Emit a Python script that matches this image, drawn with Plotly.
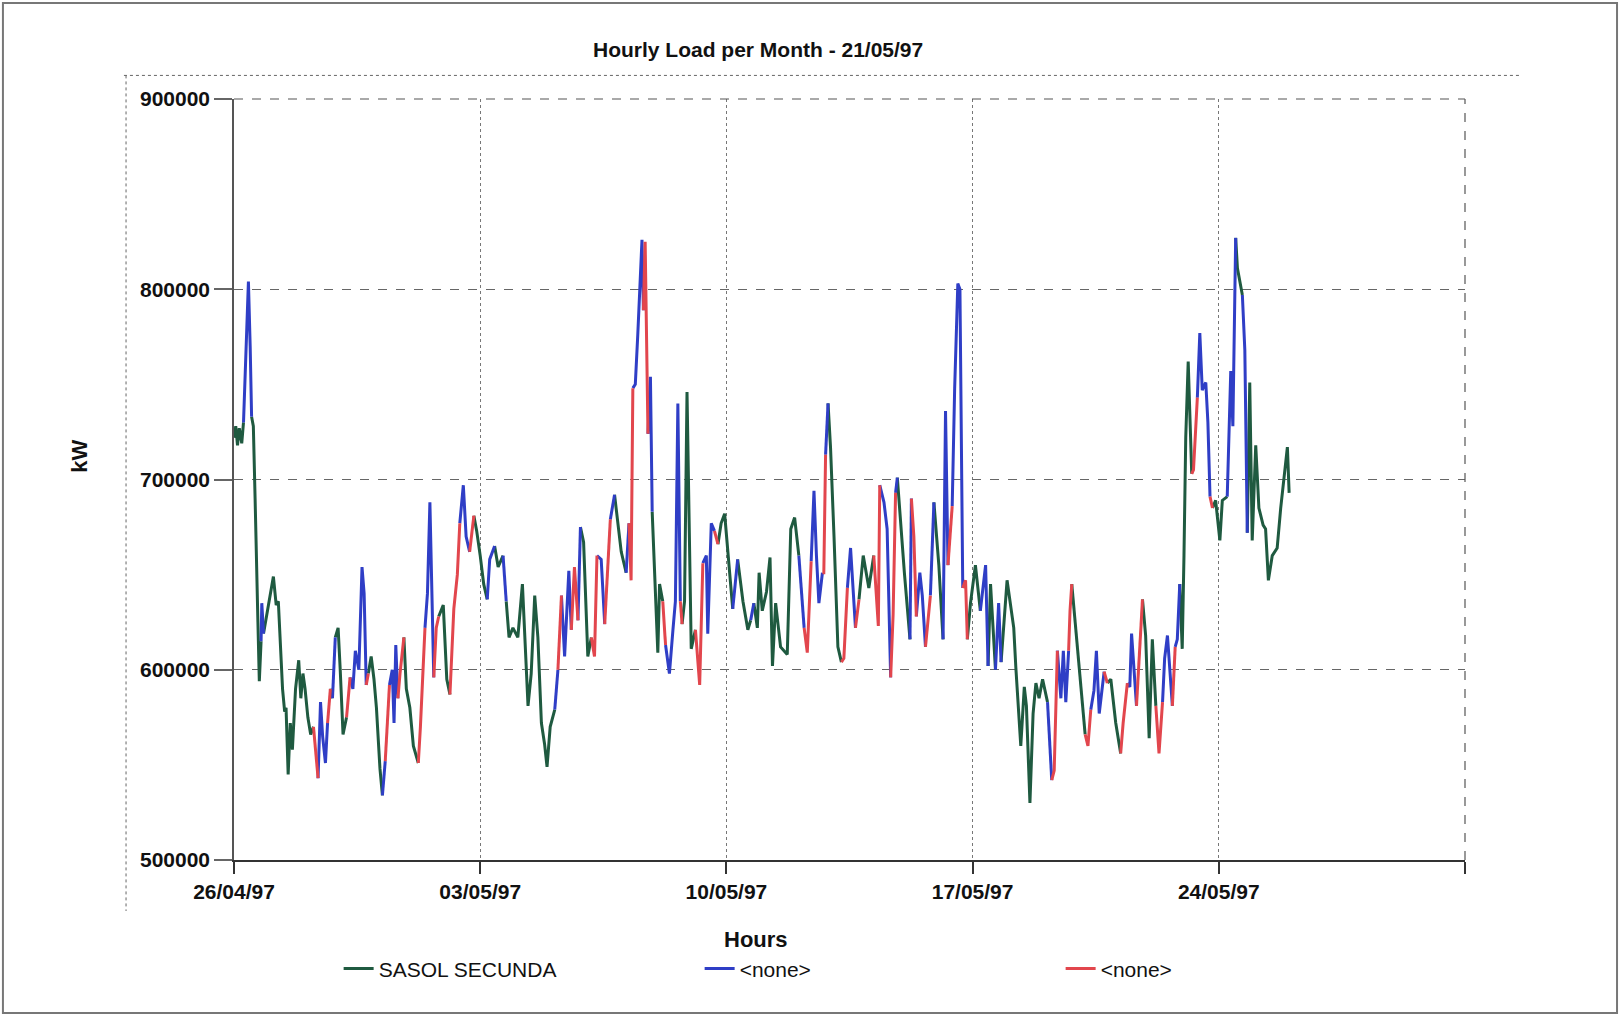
import pandas as pd
import plotly.graph_objects as go

start_date = "1997-04-26"

# days since 26/04/97 00:00 (one line per coloured run)
day_offset = [
    0.00, 0.05, 0.10, 0.15, 0.22, 0.27,
    0.33, 0.41, 0.46, 0.50,
    0.55, 0.60, 0.64, 0.68, 0.72, 0.77,
    0.79, 0.84,
    0.90, 0.98, 1.12, 1.20, 1.26, 1.38, 1.44, 1.48, 1.54, 1.60, 1.66, 1.75, 1.84, 1.90, 1.96, 2.02, 2.10, 2.18, 2.26,
    2.32, 2.39,
    2.46, 2.52, 2.60, 2.66,
    2.74,
    2.80,
    2.88,
    2.96, 3.02, 3.10, 3.20,
    3.30,
    3.38, 3.45, 3.55, 3.64, 3.70, 3.76,
    3.82,
    3.90, 3.98, 4.05, 4.15, 4.22,
    4.30,
    4.36, 4.42,
    4.50, 4.55, 4.60, 4.66,
    4.72, 4.83,
    4.90, 5.00, 5.10, 5.24,
    5.30, 5.43,
    5.50, 5.57, 5.63, 5.68,
    5.75, 5.82,
    5.95, 6.05, 6.14,
    6.25, 6.35, 6.42,
    6.52, 6.60, 6.70,
    6.82,
    6.90, 7.00, 7.10, 7.20,
    7.27, 7.41,
    7.51, 7.65,
    7.74,
    7.82, 7.93, 8.07, 8.20, 8.29, 8.36, 8.45, 8.55, 8.64, 8.74, 8.83, 8.90, 8.99, 9.12,
    9.21,
    9.31,
    9.40, 9.52, 9.59,
    9.68, 9.78,
    9.85,
    9.94, 10.06, 10.16,
    10.25, 10.32,
    10.44, 10.54,
    10.63, 10.70,
    10.82,
    10.92, 11.01, 11.15,
    11.23,
    11.29, 11.34,
    11.41, 11.48, 11.53, 11.60, 11.64,
    11.69, 11.77,
    11.84, 11.89,
    11.96, 12.05, 12.10, 12.19,
    12.27,
    12.38, 12.48, 12.55, 12.62, 12.69,
    12.74,
    12.81, 12.88, 13.00, 13.12,
    13.24, 13.33,
    13.43, 13.47, 13.57, 13.66,
    13.76,
    13.85, 13.95, 14.04, 14.18,
    14.32,
    14.47, 14.61, 14.69,
    14.78,
    14.88, 14.93, 15.02, 15.14, 15.24, 15.31, 15.40, 15.54, 15.73, 15.83, 15.94, 16.06,
    16.21,
    16.30, 16.41,
    16.49, 16.56, 16.63, 16.73,
    16.77, 16.82,
    16.89,
    16.96, 17.06, 17.17, 17.27,
    17.34, 17.44,
    17.53, 17.67,
    17.77,
    17.89, 18.05, 18.19,
    18.32, 18.36,
    18.48, 18.57, 18.67,
    18.74, 18.81,
    18.86,
    18.95, 19.06, 19.22,
    19.26,
    19.33, 19.40,
    19.50, 19.57, 19.66,
    19.80,
    19.90,
    20.04, 20.16,
    20.23, 20.30,
    20.42,
    20.49, 20.58, 20.64, 20.72,
    20.80, 20.85,
    20.94, 21.08, 21.22,
    21.37, 21.44,
    21.51, 21.65,
    21.74, 21.81,
    21.98, 22.17, 22.23, 22.37, 22.47, 22.53, 22.63, 22.72, 22.80, 22.89, 22.99, 23.13,
    23.25,
    23.32, 23.41,
    23.51, 23.58, 23.65, 23.73,
    23.77, 23.82,
    23.89, 24.03, 24.20,
    24.28, 24.36,
    24.45, 24.52, 24.60, 24.74,
    24.83,
    24.93, 25.07, 25.21,
    25.28, 25.40,
    25.47, 25.52, 25.66,
    25.75, 25.83,
    25.92, 26.02, 26.11, 26.21,
    26.30, 26.40,
    26.46, 26.54, 26.68,
    26.76,
    26.82, 26.89,
    26.96, 27.01, 27.06, 27.13, 27.18, 27.23,
    27.28, 27.39,
    27.46, 27.53, 27.63, 27.69, 27.75,
    27.82,
    27.91, 28.03, 28.10, 28.24,
    28.34, 28.40, 28.48,
    28.53, 28.67,
    28.74, 28.81,
    28.88, 28.95, 29.05, 29.14, 29.26, 29.33, 29.41, 29.52, 29.66, 29.76, 29.85, 29.95, 30.00,
]

# hourly load in kW (same line layout as day_offset)
load_kw = [
    722000, 728000, 718000, 727000, 719000, 730000,
    760000, 804000, 770000, 733000,
    728000, 690000, 650000, 625000, 594000, 615000,
    635000, 619000,
    625000, 635000, 649000, 634000, 636000, 590000, 578000, 580000, 545000, 572000, 558000, 590000, 605000, 585000, 598000, 590000, 575000, 566000, 570000,
    556000, 543000,
    583000, 565000, 551000, 572000,
    590000,
    585000,
    617000,
    622000, 600000, 566000, 575000,
    596000,
    590000, 610000, 600000, 654000, 640000, 592000,
    598000,
    607000, 595000, 580000, 548000, 534000,
    552000,
    570000, 592000,
    600000, 572000, 613000, 585000,
    598000, 617000,
    590000, 580000, 560000, 551000,
    570000, 622000,
    640000, 688000, 640000, 596000,
    622000, 628000,
    634000, 595000, 587000,
    632000, 650000, 677000,
    697000, 670000, 662000,
    681000,
    673000, 660000, 645000, 637000,
    658000, 665000,
    654000, 660000,
    636000,
    617000, 622000, 617000, 645000, 611000, 581000, 598000, 639000, 617000, 572000, 561000, 549000, 570000, 579000,
    600000,
    639000,
    607000, 652000, 621000,
    654000, 626000,
    675000,
    667000, 607000, 617000,
    607000, 660000,
    658000, 624000,
    656000, 679000,
    692000,
    677000, 662000, 651000,
    677000,
    647000, 748000,
    750000, 776000, 800000, 826000, 789000,
    825000, 724000,
    754000, 683000,
    647000, 609000, 645000, 636000,
    613000,
    598000, 621000, 636000, 740000, 636000,
    624000,
    636000, 746000, 611000, 621000,
    592000, 656000,
    660000, 619000, 677000, 673000,
    666000,
    677000, 682000, 662000, 632000,
    658000,
    636000, 621000, 626000,
    635000,
    622000, 651000, 631000, 641000, 659000, 602000, 635000, 612000, 608000, 674000, 680000, 660000,
    622000,
    609000, 657000,
    694000, 660000, 635000, 651000,
    651000, 713000,
    740000,
    717000, 670000, 612000, 604000,
    606000, 643000,
    664000, 622000,
    637000,
    660000, 643000, 660000,
    623000, 697000,
    688000, 674000, 596000,
    629000, 693000,
    701000,
    678000, 651000, 616000,
    690000,
    670000, 628000,
    651000, 639000, 612000,
    639000,
    688000,
    655000, 616000,
    736000, 655000,
    686000,
    748000, 803000, 800000, 643000,
    647000, 616000,
    635000, 655000, 631000,
    655000, 602000,
    645000, 600000,
    635000, 604000,
    647000, 622000, 601000, 560000, 591000, 581000, 530000, 577000, 593000, 585000, 595000, 583000,
    542000,
    547000, 610000,
    585000, 610000, 583000, 610000,
    631000, 645000,
    631000, 601000, 566000,
    560000, 579000,
    589000, 610000, 577000, 599000,
    593000,
    595000, 572000, 556000,
    572000, 593000,
    591000, 619000, 581000,
    608000, 637000,
    618000, 564000, 616000, 581000,
    556000, 583000,
    606000, 618000, 581000,
    612000,
    616000, 645000,
    611000, 660000, 722000, 762000, 730000, 703000,
    705000, 743000,
    777000, 747000, 751000, 730000, 691000,
    685000,
    689000, 668000, 689000, 691000,
    757000, 728000, 827000,
    811000, 797000,
    768000, 672000,
    751000, 668000, 718000, 685000, 676000, 674000, 647000, 660000, 664000, 685000, 701000, 717000, 693000,
]

# series of the segment ending at each point: G = SASOL SECUNDA, B / R = <none>
series_code = list(
    "GGGGGG" "BBBB" "GGGGGG" "BB" "GGGGGGGGGGGGGGGGGGG" "RR" "BBBB" "R" "G" "B" "GGGG" "R"
    "BBBBBB" "R" "GGGGG" "B" "RR" "BBBB" "RR" "GGGG" "RR" "BBBB" "RR" "GGG" "RRR" "BBB" "R"
    "GGGG" "BB" "GG" "B" "GGGGGGGGGGGGGG" "B" "R" "BBB" "RR" "B" "GGG" "RR" "BB" "RR" "B"
    "GGG" "B" "RR" "BBBBB" "RR" "BB" "GGGG" "R" "BBBBB" "R" "GGGG" "RR" "BBBB" "R" "GGGG"
    "B" "GGG" "B" "GGGGGGGGGGGG" "B" "RR" "BBBB" "RR" "B" "GGGG" "RR" "BB" "R" "GGG" "RR"
    "BBB" "RR" "B" "GGG" "B" "RR" "BBB" "R" "B" "GG" "BB" "R" "BBBB" "RR" "GGG" "BB" "GG"
    "BB" "GGGGGGGGGGGG" "B" "RR" "BBBB" "RR" "GGG" "RR" "BBBB" "R" "GGG" "RR" "BBB" "RR"
    "GGGG" "RR" "BBB" "R" "BB" "GGGGGG" "RR" "BBBBB" "R" "GGGG" "BBB" "GG" "BB"
    "GGGGGGGGGGGGG"
)

series_names = {"G": "SASOL SECUNDA", "B": "&lt;none&gt;", "R": "&lt;none&gt;"}
series_colors = {"G": "#1f5a40", "B": "#2f3ec6", "R": "#e2464d"}

x_ticks = ["1997-04-26", "1997-05-03", "1997-05-10", "1997-05-17", "1997-05-24", "1997-05-31"]
x_tick_text = ["26/04/97", "03/05/97", "10/05/97", "17/05/97", "24/05/97", ""]
y_ticks = [500000, 600000, 700000, 800000, 900000]
y_tick_text = ["500000", "600000", "700000", "800000", "900000"]

assert len(day_offset) == len(load_kw) == len(series_code)

t0 = pd.Timestamp(start_date)
times = [t0 + pd.Timedelta(days=d) for d in day_offset]

# split into coloured runs; each segment takes the colour of its end point
runs = {c: ([], []) for c in "GBR"}
last_idx = {c: None for c in "GBR"}
for i in range(1, len(times)):
    c = series_code[i]
    xs, ys = runs[c]
    if last_idx[c] != i - 1:
        if xs:
            xs.append(None)
            ys.append(None)
        xs.append(times[i - 1])
        ys.append(load_kw[i - 1])
    xs.append(times[i])
    ys.append(load_kw[i])
    last_idx[c] = i

FONT = "Liberation Sans, Arial, sans-serif"
fig = go.Figure()
for c in "GBR":
    xs, ys = runs[c]
    fig.add_trace(go.Scatter(
        x=xs, y=ys, mode="lines", name=series_names[c],
        line=dict(color=series_colors[c], width=3),
        connectgaps=False,
    ))

fig.update_layout(
    width=1624, height=1016,
    margin=dict(l=234, r=159, t=99, b=156),
    paper_bgcolor="white", plot_bgcolor="white",
    font=dict(family=FONT, size=21, color="#111"),
    showlegend=True,
    legend=dict(orientation="h", x=0.085, y=-0.143, xanchor="left", yanchor="middle",
                entrywidth=316, entrywidthmode="pixels",
                font=dict(family=FONT, size=21, color="#111"), itemwidth=30,
                bgcolor="rgba(0,0,0,0)"),
)
fig.update_xaxes(
    range=[x_ticks[0], x_ticks[-1]], tickmode="array", tickvals=x_ticks, ticktext=x_tick_text,
    tickfont=dict(family=FONT, size=21, color="#111", weight="bold"),
    showline=True, linecolor="#333", linewidth=1.5,
    ticks="outside", ticklen=12, tickcolor="#333", tickwidth=1.5,
    showgrid=True, gridcolor="#777", griddash="dot", gridwidth=1.2,
    zeroline=False,
)
fig.update_yaxes(
    range=[500000, 900000], tickmode="array", tickvals=y_ticks, ticktext=y_tick_text,
    tickfont=dict(family=FONT, size=21, color="#111", weight="bold"),
    showline=True, linecolor="#555", linewidth=1.5,
    ticks="outside", ticklen=18, tickcolor="#666", tickwidth=1.5,
    showgrid=True, gridcolor="#666", griddash="dash", gridwidth=1.2,
    zeroline=False,
)

# chart title and axis titles
fig.add_annotation(text="<b>Hourly Load per Month - 21/05/97</b>", xref="paper", yref="paper",
                   x=0.426, y=1.083, showarrow=False, font=dict(family=FONT, size=21, color="#111"))
fig.add_annotation(text="<b>Hours</b>", xref="paper", yref="paper",
                   x=0.424, y=-0.123, showarrow=False, font=dict(family=FONT, size=22, color="#111"))
fig.add_annotation(text="<b>kW</b>", xref="paper", yref="paper", textangle=-90,
                   x=-0.137, y=0.531, showarrow=False, font=dict(family=FONT, size=22, color="#111"))

# frame: right and top dashed edges, dotted chart-area border, scanned page border
fig.add_shape(type="line", xref="paper", yref="paper", x0=1, x1=1, y0=0, y1=1,
              line=dict(color="#555", width=1.2, dash="dash"))
fig.add_shape(type="line", xref="paper", yref="paper", x0=0, x1=1, y0=1, y1=1,
              line=dict(color="#555", width=1.2, dash="dash"))
fig.add_shape(type="line", xref="paper", yref="paper", x0=-0.0894, x1=1.0447, y0=1.031, y1=1.031,
              line=dict(color="#666", width=1, dash="dot"))
fig.add_shape(type="line", xref="paper", yref="paper", x0=-0.0877, x1=-0.0877, y0=1.031, y1=-0.067,
              line=dict(color="#666", width=1, dash="dot"))
fig.add_shape(type="rect", xref="paper", yref="paper", x0=-0.1877, x1=1.1235, y0=-0.201, y1=1.126,
              line=dict(color="#777", width=2), fillcolor="rgba(0,0,0,0)")

fig.write_html("out.html")
